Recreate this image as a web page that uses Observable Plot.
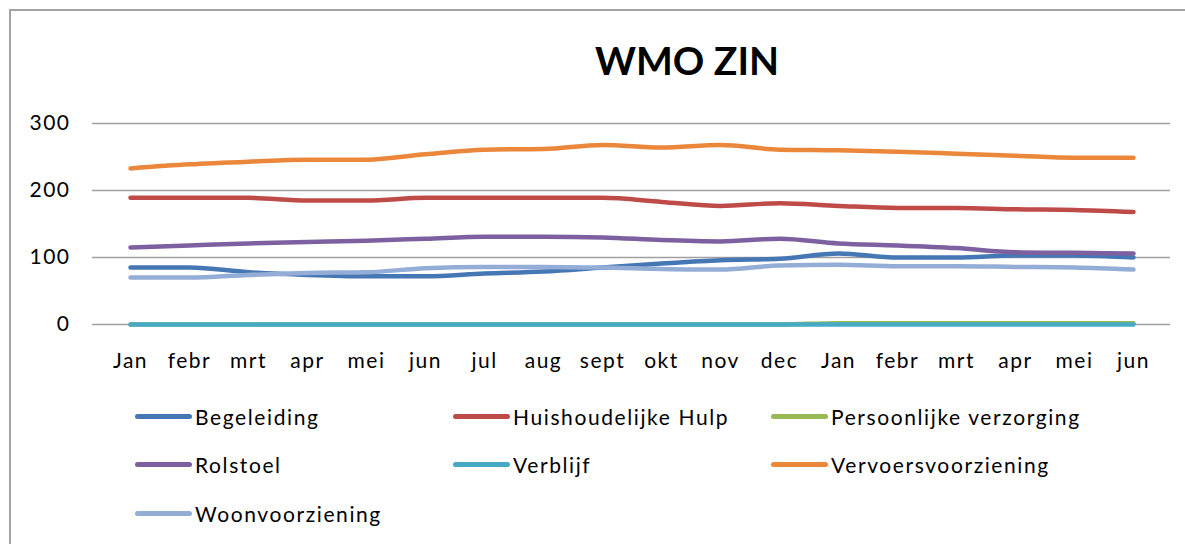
<!DOCTYPE html>
<html>
<head>
<meta charset="utf-8">
<script src="https://cdn.jsdelivr.net/npm/d3@7"></script>
<script src="https://cdn.jsdelivr.net/npm/@observablehq/plot@0.6"></script>
<style>
  html, body { margin: 0; padding: 0; background: #fff; }
  #wrap { position: relative; width: 1185px; height: 544px; overflow: hidden; font-family: Lato, "Open Sans", sans-serif; }
  #frame { position: absolute; left: 9px; top: 9px; width: 1200px; height: 600px; border-left: 2px solid #a3a3a3; border-top: 2px solid #a3a3a3; }
  #title { position: absolute; left: 0; width: 1374px; top: 41px; text-align: center; font-size: 39px; line-height: 1; font-weight: bold; color: #000; }
  #chart { position: absolute; left: 0; top: 100px; }
  #legend { position: absolute; left: 135px; top: 392px; width: 1000px; display: flex; flex-wrap: wrap; }
  .item { width: 318px; height: 48.5px; display: flex; align-items: center; font-size: 21px; letter-spacing: 1.6px; color: #000; }
  .sw { width: 57px; height: 5px; border-radius: 3px; margin-right: 3px; flex: none; }
</style>
</head>
<body>
<div id="wrap">
  <div id="frame"></div>
  <div id="title">WMO ZIN</div>
  <div id="chart"></div>
  <div id="legend"></div>
</div>
<script>
const months = ["Jan","febr","mrt","apr","mei","jun","jul","aug","sept","okt","nov","dec","Jan","febr","mrt","apr","mei","jun"];
const seriesNames = ["Begeleiding","Huishoudelijke Hulp","Persoonlijke verzorging","Rolstoel","Verblijf","Vervoersvoorziening","Woonvoorziening"];
const colors = ["#4677B5","#BE4B48","#98B954","#7D60A0","#46AAC5","#EA873B","#93ADD6"];
const yTicks = [0, 100, 200, 300];

const begeleiding = [85, 85, 78, 74, 72, 72, 76, 79, 85, 91, 96, 98, 106, 100, 100, 103, 103, 100];
const huishoudelijkeHulp = [189, 189, 189, 185, 185, 189, 189, 189, 189, 183, 177, 181, 177, 174, 174, 172, 171, 168];
const persoonlijkeVerzorging = [0, 0, 0, 0, 0, 0, 0, 0, 0, 0, 0, 0, 2, 2, 2, 2, 2, 2];
const rolstoel = [115, 118, 121, 123, 125, 128, 131, 131, 130, 126, 124, 128, 121, 118, 114, 108, 107, 106];
const verblijf = [0, 0, 0, 0, 0, 0, 0, 0, 0, 0, 0, 0, 0, 0, 0, 0, 0, 0];
const vervoersvoorziening = [233, 239, 243, 246, 246, 254, 261, 262, 268, 264, 268, 261, 260, 258, 255, 252, 249, 249];
const woonvoorziening = [70, 70, 74, 77, 78, 84, 86, 86, 85, 83, 82, 88, 89, 87, 87, 86, 85, 82];

const seriesValues = [begeleiding, huishoudelijkeHulp, persoonlijkeVerzorging, rolstoel, verblijf, vervoersvoorziening, woonvoorziening];

const data = [];
seriesNames.forEach((name, s) => {
  seriesValues[s].forEach((v, i) => data.push({series: name, i, v}));
});

const chart = Plot.plot({
  width: 1185,
  height: 280,
  marginLeft: 92,
  marginRight: 15,
  marginTop: 23,
  marginBottom: 56,
  style: {fontFamily: "Lato, 'Open Sans', sans-serif", fontSize: "21px", color: "#000", background: "transparent", letterSpacing: "1.5px"},
  x: {type: "point", domain: d3.range(months.length), padding: 0.5, tickFormat: i => months[i], tickSize: 0, tickPadding: 29, label: null},
  y: {domain: [0, 300], ticks: yTicks, tickSize: 0, tickPadding: 22, label: null},
  color: {domain: seriesNames, range: colors},
  marks: [
    Plot.ruleY(yTicks, {stroke: "#a0a0a0", strokeWidth: 1.6}),
    Plot.line(data, {x: "i", y: "v", stroke: "series", z: "series", strokeWidth: 4.5, strokeLinecap: "round", strokeLinejoin: "round", curve: "monotone-x"})
  ]
});
document.getElementById("chart").appendChild(chart);

const legend = document.getElementById("legend");
seriesNames.forEach((name, s) => {
  const item = document.createElement("div");
  item.className = "item";
  const sw = document.createElement("span");
  sw.className = "sw";
  sw.style.background = colors[s];
  const label = document.createElement("span");
  label.textContent = name;
  item.appendChild(sw);
  item.appendChild(label);
  legend.appendChild(item);
});
</script>
</body>
</html>
